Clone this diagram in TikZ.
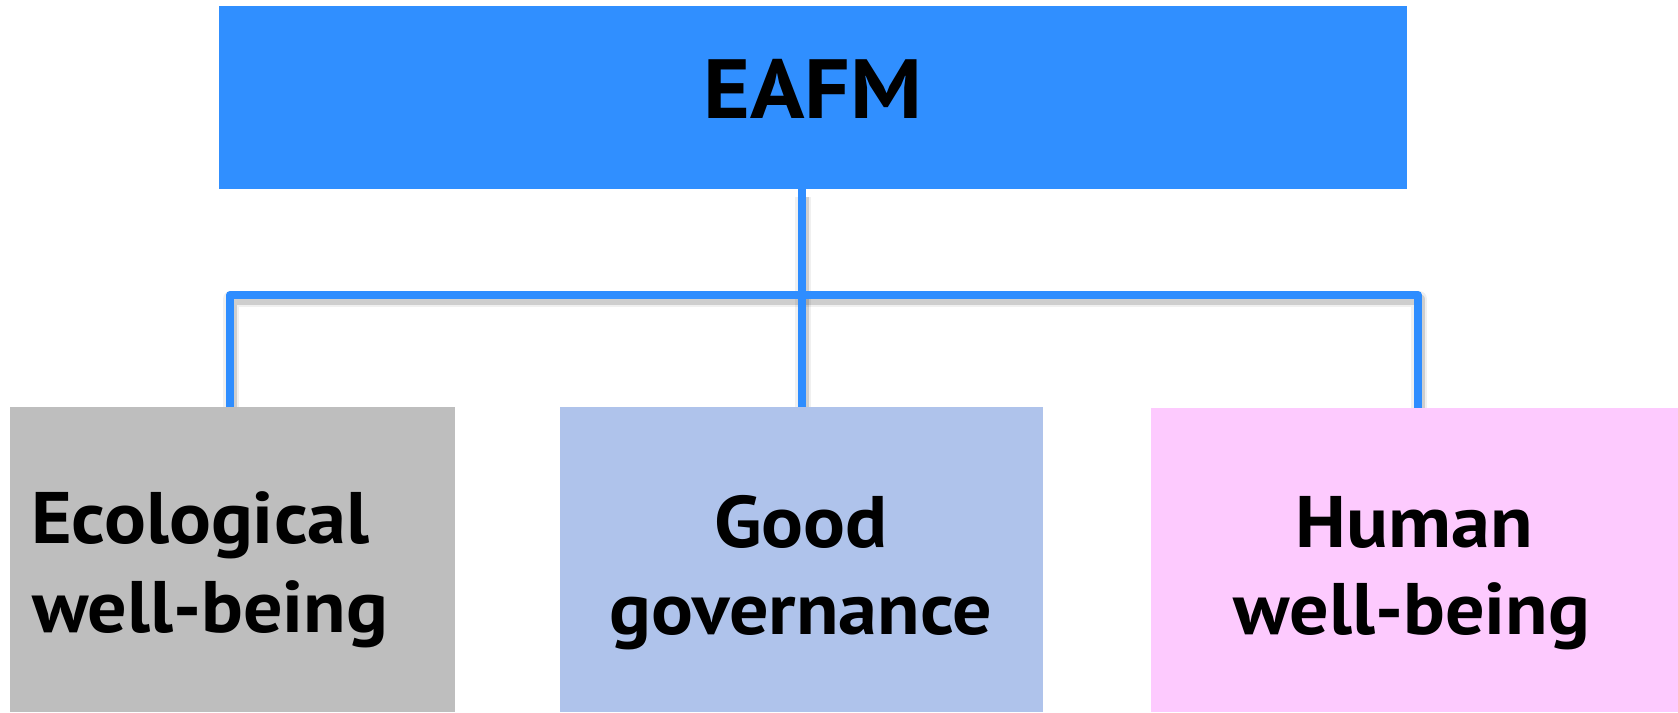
\documentclass[tikz,border=0pt]{standalone}
\usepackage{fontspec}
\setmainfont{PT Sans}
\newfontfamily\lblfont[FakeStretch=1.07]{PT Sans}
\definecolor{topblue}{RGB}{48,143,255}
\definecolor{linkblue}{RGB}{46,141,255}
\definecolor{ecogrey}{RGB}{190,190,190}
\definecolor{govblue}{RGB}{175,195,235}
\definecolor{humpink}{RGB}{253,202,254}
\tikzset{
  box/.style={rectangle, draw=none, inner sep=0pt, outer sep=0pt},
  lbl/.style={inner sep=0pt, outer sep=0pt, text=black, font=\lblfont\fontsize{73}{85}\selectfont\bfseries},
  toplbl/.style={inner sep=0pt, outer sep=0pt, text=black, font=\lblfont\fontsize{84}{96}\selectfont\bfseries},
  link/.style={draw=linkblue, line width=8pt, line join=round, line cap=butt},
  linkshadowwide/.style={draw=black, line width=16pt, line join=round, opacity=0.06, shorten <=4pt, shorten >=4pt},
  linkshadow/.style={draw=black, line width=11pt, line join=round, opacity=0.14, shorten <=4pt, shorten >=4pt},
}
\begin{document}
\begin{tikzpicture}[x=1pt,y=-1pt]
\useasboundingbox (0,0) rectangle (1678,712);
% boxes
\node[box, fill=topblue, minimum width=1188pt, minimum height=183pt] (top) at (813,97.5) {};
\node[box, fill=ecogrey, minimum width=445pt, minimum height=305pt] (eco) at (232.5,559.5) {};
\node[box, fill=govblue, minimum width=483pt, minimum height=305pt] (gov) at (801.5,559.5) {};
\node[box, fill=humpink, minimum width=527pt, minimum height=304pt] (hum) at (1414.5,560) {};
% junction coordinates
\coordinate (hl) at (230,295);
\coordinate (hm) at (802,295);
\coordinate (hr) at (1418,295);
% shadows
\begin{scope}[transform canvas={shift={(1pt,-4pt)}}]
\draw[linkshadowwide] (eco.north -| hl) -- (hl) -- (hr) -- (hum.north -| hr);
\draw[linkshadow] (eco.north -| hl) -- (hl) -- (hr) -- (hum.north -| hr);
\draw[linkshadowwide] (top.south -| hm) -- (gov.north -| hm);
\draw[linkshadow] (top.south -| hm) -- (gov.north -| hm);
\end{scope}
% connectors
\draw[link] (top.south -| hm) -- (gov.north -| hm);
\draw[link] (eco.north -| hl) -- (hl) -- (hr) -- (hum.north -| hr);
% texts
\node[toplbl, anchor=base] (t0) at (813,118) {EAFM};
\node[lbl, anchor=base west] (t1a) at (31,543) {Ecological};
\node[lbl, anchor=base west] (t1b) at (32,632) {well-being};
\node[lbl, anchor=base] (t2a) at (801,547) {Good};
\node[lbl, anchor=base] (t2b) at (801,634) {governance};
\node[lbl, anchor=base] (t3a) at (1414.5,547) {Human};
\node[lbl, anchor=base] (t3b) at (1412,634) {well-being};
\end{tikzpicture}
\end{document}
